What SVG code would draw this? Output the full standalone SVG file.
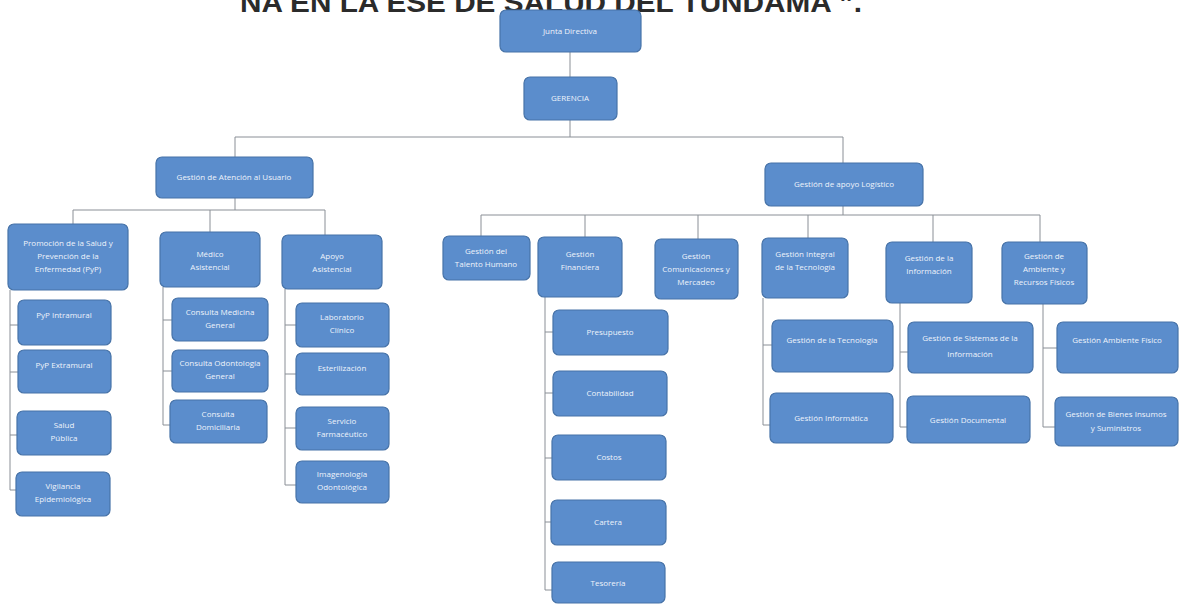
<svg xmlns="http://www.w3.org/2000/svg" width="1180" height="605" viewBox="0 0 1180 605">
<style>
.n rect{fill:#5b8dcc;stroke:#4773a8;stroke-width:1.2}
.n text{fill:#eef3fb;font-family:"Open Sans","Liberation Sans",sans-serif;font-size:8px;text-anchor:middle}
.c path{fill:none;stroke:#8a8f96;stroke-width:1}
.t{font-family:"Liberation Sans",Arial,sans-serif;font-weight:bold;font-size:28px;fill:#2b2b2b}
</style>
<rect width="1180" height="605" fill="#ffffff"/>
<text class="t" x="240" y="12" textLength="622" lengthAdjust="spacingAndGlyphs">NA EN LA ESE DE SALUD DEL TUNDAMA ”.</text>
<g class="c">
<path d="M570 52V77M570 120V137M235 137H843M235 137V157M843 137V163"/>
<path d="M235 198V210M73 210H325M73 210V224M210 210V232M325 210V235"/>
<path d="M10 290V490M10 325H18M10 372H18M10 435H17M10 490H16"/>
<path d="M163 287V425M163 320H172M163 371H172M163 425H170"/>
<path d="M285 289V485M285 325H296M285 374H296M285 428H296M285 485H296"/>
<path d="M843 206V215M481 215H1040M481 215V236M585 215V237M698 215V239M808 215V238M933 215V242M1040 215V242"/>
<path d="M545 297V590M545 332H553M545 393H553M545 458H552M545 522H551M545 590H552"/>
<path d="M763 298V425M763 345H772M763 425H770"/>
<path d="M900 303V427M900 352H908M900 427H907"/>
<path d="M1043 304V427M1043 348H1057M1043 427H1055"/>
</g>
<g id="junta" class="n"><rect x="500" y="10" width="141" height="42" rx="6"/><text x="570" y="34">Junta Directiva</text></g>
<g id="gerencia" class="n"><rect x="524" y="77" width="93" height="43" rx="6"/><text x="570" y="101">GERENCIA</text></g>
<g id="atencion" class="n"><rect x="156" y="157" width="157" height="41" rx="6"/><text x="234" y="180">Gestión de Atención al Usuario</text></g>
<g id="apoyo" class="n"><rect x="765" y="163" width="158" height="43" rx="6"/><text x="844" y="187">Gestión de apoyo Logístico</text></g>
<g id="pyp" class="n"><rect x="8" y="224" width="120" height="66" rx="6"/><text x="68" y="246">Promoción de la Salud y</text><text x="68" y="259">Prevención de la</text><text x="68" y="272">Enfermedad (PyP)</text></g>
<g id="medico" class="n"><rect x="160" y="232" width="100" height="55" rx="6"/><text x="210" y="257">Médico</text><text x="210" y="270">Asistencial</text></g>
<g id="apoyoasis" class="n"><rect x="282" y="235" width="100" height="54" rx="6"/><text x="332" y="259">Apoyo</text><text x="332" y="272">Asistencial</text></g>
<g id="pypintra" class="n"><rect x="18" y="300" width="93" height="45" rx="6"/><text x="64" y="318">PyP Intramural</text></g>
<g id="pypextra" class="n"><rect x="18" y="350" width="93" height="43" rx="6"/><text x="64" y="368">PyP Extramural</text></g>
<g id="saludpub" class="n"><rect x="17" y="411" width="94" height="44" rx="6"/><text x="64" y="428">Salud</text><text x="64" y="441">Pública</text></g>
<g id="vigilancia" class="n"><rect x="16" y="472" width="94" height="44" rx="6"/><text x="63" y="489">Vigilancia</text><text x="63" y="502">Epidemiológica</text></g>
<g id="consmed" class="n"><rect x="172" y="298" width="96" height="43" rx="6"/><text x="220" y="315">Consulta Medicina</text><text x="220" y="328">General</text></g>
<g id="consodon" class="n"><rect x="172" y="350" width="96" height="42" rx="6"/><text x="220" y="366">Consulta Odontología</text><text x="220" y="379">General</text></g>
<g id="consdom" class="n"><rect x="170" y="400" width="97" height="43" rx="6"/><text x="218" y="417">Consulta</text><text x="218" y="430">Domiciliaria</text></g>
<g id="lab" class="n"><rect x="296" y="303" width="93" height="44" rx="6"/><text x="342" y="320">Laboratorio</text><text x="342" y="333">Clínico</text></g>
<g id="ester" class="n"><rect x="296" y="353" width="93" height="42" rx="6"/><text x="342" y="371">Esterilización</text></g>
<g id="farma" class="n"><rect x="296" y="407" width="93" height="43" rx="6"/><text x="342" y="424">Servicio</text><text x="342" y="437">Farmacéutico</text></g>
<g id="imagen" class="n"><rect x="296" y="461" width="93" height="42" rx="6"/><text x="342" y="477">Imagenología</text><text x="342" y="490">Odontológica</text></g>
<g id="talento" class="n"><rect x="443" y="236" width="87" height="44" rx="6"/><text x="486" y="254">Gestión del</text><text x="486" y="267">Talento Humano</text></g>
<g id="financiera" class="n"><rect x="538" y="237" width="84" height="60" rx="6"/><text x="580" y="257">Gestión</text><text x="580" y="270">Financiera</text></g>
<g id="comunic" class="n"><rect x="655" y="239" width="83" height="60" rx="6"/><text x="696" y="259">Gestión</text><text x="696" y="272">Comunicaciones y</text><text x="696" y="285">Mercadeo</text></g>
<g id="integral" class="n"><rect x="762" y="238" width="86" height="60" rx="6"/><text x="805" y="257">Gestión Integral</text><text x="805" y="270">de la Tecnología</text></g>
<g id="informacion" class="n"><rect x="886" y="242" width="86" height="61" rx="6"/><text x="929" y="261">Gestión de la</text><text x="929" y="274">Información</text></g>
<g id="ambiente" class="n"><rect x="1002" y="242" width="85" height="62" rx="6"/><text x="1044" y="259">Gestión de</text><text x="1044" y="272">Ambiente y</text><text x="1044" y="285">Recursos Físicos</text></g>
<g id="presupuesto" class="n"><rect x="553" y="310" width="115" height="45" rx="6"/><text x="610" y="335">Presupuesto</text></g>
<g id="contabilidad" class="n"><rect x="553" y="371" width="114" height="45" rx="6"/><text x="610" y="396">Contabilidad</text></g>
<g id="costos" class="n"><rect x="552" y="435" width="114" height="45" rx="6"/><text x="609" y="460">Costos</text></g>
<g id="cartera" class="n"><rect x="551" y="500" width="115" height="45" rx="6"/><text x="608" y="525">Cartera</text></g>
<g id="tesoreria" class="n"><rect x="552" y="562" width="113" height="41" rx="6"/><text x="608" y="586">Tesorería</text></g>
<g id="gtecno" class="n"><rect x="772" y="320" width="121" height="52" rx="6"/><text x="832" y="343">Gestión de la Tecnología</text></g>
<g id="ginfor" class="n"><rect x="770" y="393" width="123" height="50" rx="6"/><text x="831" y="421">Gestión Informática</text></g>
<g id="gsist" class="n"><rect x="908" y="322" width="125" height="51" rx="6"/><text x="970" y="341">Gestión de Sistemas de la</text><text x="970" y="357">Información</text></g>
<g id="gdoc" class="n"><rect x="907" y="396" width="123" height="47" rx="6"/><text x="968" y="423">Gestión Documental</text></g>
<g id="gamb" class="n"><rect x="1057" y="322" width="121" height="51" rx="6"/><text x="1117" y="343">Gestión Ambiente Físico</text></g>
<g id="gbienes" class="n"><rect x="1055" y="397" width="123" height="49" rx="6"/><text x="1116" y="417">Gestión de Bienes Insumos</text><text x="1116" y="431">y Suministros</text></g>
</svg>
